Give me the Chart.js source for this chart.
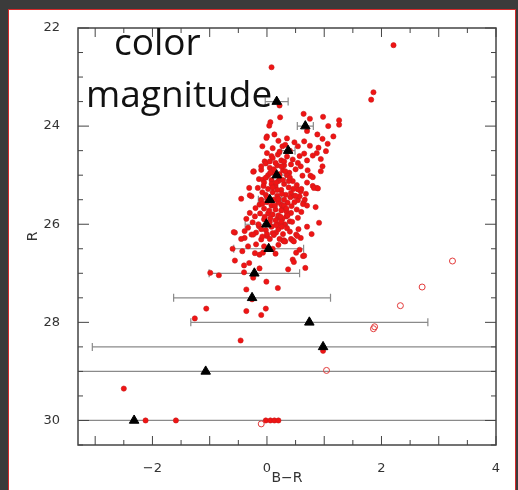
<!DOCTYPE html>
<html lang="en">
<head>
  <meta charset="UTF-8" />
  <title>color magnitude</title>
  <script src="https://cdn.jsdelivr.net/npm/chart.js"></script>
  <style>
    body {
      margin: 0;
      width: 518px;
      height: 490px;
      overflow: hidden;
      position: relative;
      background: #3b3b3b;
    }
    .panel {
      position: absolute;
      left: 8px;
      top: 9px;
      width: 506px;
      height: 490px;
      background: #fff;
      border: 1.5px solid #d42a2a;
    }
    #cmd {
      position: absolute;
      left: 0;
      top: 0;
    }
    .note {
      position: absolute;
      font-family: 'Open Sans', sans-serif;
      font-size: 37px;
      line-height: 1;
      color: #111;
      white-space: nowrap;
    }
  </style>
</head>
<body>
  <div class="panel"></div>
  <canvas id="cmd" width="518" height="490"></canvas>
  <div class="note" style="left:114px; top:22px;">color</div>
  <div class="note" style="left:86px; top:74px;">magnitude</div>

  <script>
    // axis ticks
    const xTicks = [-2, 0, 2, 4];
    const yTicks = [22, 24, 26, 28, 30];

    // binned means with B-R error bars
    const triX   = [0.17, 0.67, 0.37, 0.17, 0.05, -0.01, 0.03, -0.22, -0.26, 0.74, 0.98, -1.07, -2.32];
    const triY   = [23.5, 24.0, 24.5, 25.0, 25.5, 26.0, 26.5, 27.0, 27.5, 28.0, 28.5, 29.0, 30.0];
    const triErr = [0.2, 0.14, 0.12, 0.15, 0.2, 0.37, 0.61, 0.79, 1.37, 2.07, 4.03, 6.0, 7.0];

    // open circles
    const openX = [3.24, 2.71, 2.33, 1.88, 1.86, 1.04, -0.1];
    const openY = [26.75, 27.28, 27.66, 28.09, 28.13, 28.98, 30.07];

    // filled red points
    const redX = [
      2.21, 0.08, 1.86, 1.82, 0.22, 0.64, 0.75, 0.98, 0.23, 0.06, 0.04, 1.07, 1.26, 1.26, 0.7, 0.88,
      1.16, 0.0, 0.13, -0.08, 0.97, 1.06, 0.65, 0.48, 0.54, 0.9, 1.03, 0.87, 0.27, 0.19, 0.65, 0.57,
      0.7, 0.54, 0.94, 0.97, 0.94, 0.71, 0.59, 0.76, 0.62, 0.3, 0.39, 0.45, 0.8, 0.87, 0.42, 0.59,
      0.54, 0.64, 0.91, 0.54, 0.27, 0.42, 0.27, 0.42, 0.3, 0.59, 0.51,
      0.82, 0.89, 0.8, 0.54, 0.57, 0.66, 0.63, 0.41, 0.36, 0.43, 0.25, 0.34, 0.19, 0.34, 0.4, 0.31,
      0.19, 0.28, 0.45, 0.53, 0.16, 0.51, 0.63, 0.57,
      0.0, -0.04, -0.23, -0.1, -0.02, -0.14, -0.07, -0.31, -0.16, -0.27, -0.45, -0.13, -0.2, -0.3,
      -0.21, -0.36, -0.25, -0.33, -0.14, -0.56, -0.39, -0.27, -0.19, -0.1, 0.0, -0.33, -0.43, -0.13,
      -0.21, -0.3, -0.58, -0.39, -0.24, -0.19, -0.07, -0.01, 0.08, -0.1, -0.24,
      0.1, 0.25, 0.35, 0.45, 0.05, 0.18, 0.42, 0.5, 0.12, 0.28, 0.35, 0.02,
      -0.05, 0.08, 0.2, 0.3, 0.38, 0.15, 0.02, -0.08, 0.1, 0.25, 0.33, 0.48, 0.18, -0.02, 0.22, 0.52,
      0.7, 0.68,
      -0.1, 0.0, 0.12, 0.2, 0.3, 0.08, -0.05, 0.15, 0.25, 0.02, -0.12, 0.1, 0.2, 0.48, 0.52, 0.6, 0.7,
      -0.05, 0.05, 0.15, 0.25, -0.15, 0.08, 0.2, 0.35, -0.02, 0.1, 0.28, -0.08, 0.05, 0.4, 0.7, 0.78,
      0.2, 0.32, 0.4, 0.1, 0.22, 0.75, 0.8, 0.35,
      -0.6, -0.05, 0.1, 0.2, 0.15, -0.45, 0.55, 0.85,
      0.05, 0.15, 0.25, 0.12, 0.22, 0.32, -0.02, 0.08, 0.18, 0.28, 0.38, 0.0, 0.1, 0.2, 0.3, -0.08,
      0.04, 0.14, 0.24, 0.34, -0.04, 0.06, 0.16, 0.26, -0.1, 0.0, 0.12, 0.22, 0.32, 0.44, 0.5, 0.6,
      0.36, 0.46, 0.16, 0.06, -0.06, 0.26, 0.4, 0.3,
      -0.56, -0.4, -0.31, -0.99, -0.84, -0.4, -0.24, -0.36, -1.06, -0.36, -1.26, -0.46, -0.26, -0.01,
      -0.13, 0.19, -0.02, -0.1, 0.45, 0.65, 0.37, 0.67, 0.47, 0.3, 0.47, 0.98,
      -2.5, -2.12, -1.59, -0.02, 0.06, 0.13, 0.2
    ];
    const redY = [
      22.35, 22.8, 23.31, 23.46, 23.58, 23.75, 23.85, 23.81, 23.82, 23.92, 23.99, 24.0, 23.88, 23.97, 24.1, 24.17,
      24.21, 24.21, 24.17, 24.41, 24.26, 24.36, 24.31, 24.33, 24.41, 24.44, 24.51, 24.55, 24.41, 24.58, 24.56, 24.61,
      24.7, 24.75, 24.67, 24.82, 24.92, 24.9, 24.82, 25.01, 25.01, 24.8, 24.95, 25.12, 25.22, 25.26, 25.36, 25.33,
      25.51, 25.56, 25.97, 25.87, 25.67, 25.77, 25.89, 26.3, 26.33, 26.28, 26.21,
      25.26, 25.27, 25.04, 25.29, 25.43, 25.5, 25.59, 25.45, 25.56, 25.63, 25.6, 25.74, 25.87, 25.84, 25.94, 26.0,
      26.0, 26.33, 26.33, 26.24, 26.17, 26.58, 26.65, 26.52,
      24.55, 24.72, 24.92, 24.89, 24.76, 25.08, 25.09, 25.26, 25.26, 25.43, 25.48, 25.6, 25.67, 25.77,
      25.84, 25.89, 25.96, 26.07, 26.04, 26.17, 26.14, 26.21, 26.17, 26.31, 26.24, 26.45, 26.55, 26.62,
      26.59, 25.41, 26.16, 26.28, 26.21, 26.41, 26.58, 24.24, 24.61, 24.82, 24.93,
      24.65, 24.7, 24.62, 24.68, 24.85, 24.8, 24.78, 24.88, 24.95, 24.9, 25.0, 25.0,
      25.15, 25.1, 25.12, 25.18, 25.25, 25.22, 25.28, 25.35, 25.35, 25.3, 25.4, 25.42, 25.42, 25.4, 25.05, 25.2,
      25.15, 25.38,
      25.5, 25.55, 25.5, 25.55, 25.5, 25.62, 25.68, 25.7, 25.72, 25.78, 25.78, 25.8, 25.82, 25.55, 25.7, 25.75, 25.62,
      25.9, 25.95, 25.92, 25.95, 26.0, 26.05, 26.1, 26.08, 26.12, 26.18, 26.2, 26.25, 26.3, 26.15, 26.05, 26.2,
      24.3, 24.38, 24.5, 24.45, 24.52, 24.4, 24.6, 24.25,
      26.5, 26.45, 26.5, 26.42, 26.6, 26.3, 26.1, 25.65,
      24.72, 24.75, 24.82, 24.88, 24.98, 24.92, 25.05, 25.18, 25.3, 25.1, 25.12, 25.45, 25.25, 25.48, 25.62, 25.58,
      25.72, 25.62, 25.85, 25.68, 25.85, 25.88, 26.02, 26.05, 26.1, 26.2, 26.22, 26.3, 26.35, 25.95, 25.42, 25.28,
      25.82, 25.28, 25.15, 24.95, 25.22, 25.38, 25.05, 24.72,
      26.74, 26.84, 26.79, 26.99, 27.04, 26.98, 27.09, 27.33, 27.72, 27.77, 27.92, 28.37, 27.53, 27.17,
      26.9, 27.3, 27.72, 27.85, 26.72, 26.64, 26.92, 26.89, 26.77, 26.35, 26.35, 28.58,
      29.35, 30.0, 30.0, 30.0, 30.0, 30.0, 30.0
    ];

    const toPts = (xs, ys) => xs.map((x, i) => ({ x: x, y: ys[i] }));

    // horizontal error bars behind the points
    const errorBars = {
      id: 'errorBars',
      beforeDatasetsDraw(chart) {
        const { ctx, chartArea: a, scales: { x, y } } = chart;
        ctx.save();
        ctx.beginPath();
        ctx.rect(a.left, a.top, a.right - a.left, a.bottom - a.top);
        ctx.clip();
        ctx.strokeStyle = '#8a8a8a';
        ctx.lineWidth = 1.2;
        triX.forEach((v, i) => {
          const py = y.getPixelForValue(triY[i]);
          const x1 = x.getPixelForValue(v - triErr[i]);
          const x2 = x.getPixelForValue(v + triErr[i]);
          ctx.beginPath();
          ctx.moveTo(x1, py);
          ctx.lineTo(x2, py);
          ctx.moveTo(x1, py - 4);
          ctx.lineTo(x1, py + 4);
          ctx.moveTo(x2, py - 4);
          ctx.lineTo(x2, py + 4);
          ctx.stroke();
        });
        ctx.restore();
      }
    };

    // box with inward major/minor ticks on all sides
    const frame = {
      id: 'frame',
      afterDatasetsDraw(chart) {
        const { ctx, chartArea: a, scales: { x, y } } = chart;
        ctx.save();
        ctx.strokeStyle = '#444';
        ctx.lineWidth = 1.5;
        ctx.strokeRect(a.left, a.top, a.right - a.left, a.bottom - a.top);
        ctx.lineWidth = 1;
        ctx.beginPath();
        for (let v = -3; v <= 4; v += 0.5) {
          const px = x.getPixelForValue(v);
          const len = Number.isInteger(v) ? 9 : 5;
          ctx.moveTo(px, a.bottom); ctx.lineTo(px, a.bottom - len);
          ctx.moveTo(px, a.top); ctx.lineTo(px, a.top + len);
        }
        for (let v = 22; v <= 30.5; v += 0.5) {
          const py = y.getPixelForValue(v);
          const len = Number.isInteger(v) && v % 2 === 0 ? 11 : 5;
          ctx.moveTo(a.left, py); ctx.lineTo(a.left + len, py);
          ctx.moveTo(a.right, py); ctx.lineTo(a.right - len, py);
        }
        ctx.stroke();
        ctx.restore();
      }
    };

    const tickFont = { family: 'DejaVu Sans', size: 13 };

    new Chart(document.getElementById('cmd'), {
      type: 'scatter',
      data: {
        datasets: [
          {
            label: 'mean',
            data: toPts(triX, triY),
            pointStyle: 'triangle',
            pointRadius: 5.5,
            backgroundColor: '#000',
            borderColor: '#000',
            borderWidth: 1,
            order: 0
          },
          {
            label: 'open',
            data: toPts(openX, openY),
            pointRadius: 3,
            backgroundColor: 'rgba(0,0,0,0)',
            borderColor: '#e23a3a',
            borderWidth: 1,
            order: 1
          },
          {
            label: 'stars',
            data: toPts(redX, redY),
            pointRadius: 2.6,
            backgroundColor: '#f01414',
            borderColor: '#c81c1c',
            borderWidth: 0.6,
            order: 2
          }
        ]
      },
      options: {
        responsive: false,
        animation: false,
        layout: { padding: { top: 28, right: 22, left: 0, bottom: 0 } },
        plugins: { legend: { display: false }, tooltip: { enabled: false } },
        scales: {
          x: {
            type: 'linear',
            min: -3.3,
            max: 4,
            grid: { display: false },
            border: { display: false },
            afterBuildTicks: s => { s.ticks = xTicks.map(v => ({ value: v })); },
            afterFit: s => { s.height = 45; },
            ticks: {
              padding: 8,
              color: '#333',
              font: tickFont,
              callback: v => String(v).replace('-', '\u2212')
            },
            title: {
              display: true,
              text: 'B\u2212R',
              color: '#333',
              font: { family: 'DejaVu Sans', size: 14 },
              padding: { top: 0, bottom: 3 }
            }
          },
          y: {
            type: 'linear',
            reverse: true,
            min: 22,
            max: 30.5,
            grid: { display: false },
            border: { display: false },
            afterBuildTicks: s => { s.ticks = yTicks.map(v => ({ value: v })); },
            afterFit: s => { s.width = 78; },
            ticks: { padding: 10, color: '#333', font: tickFont },
            title: {
              display: true,
              text: 'R',
              color: '#333',
              font: { family: 'DejaVu Sans', size: 14 },
              padding: { top: 25, bottom: 0 }
            }
          }
        }
      },
      plugins: [errorBars, frame]
    });
  </script>
</body>
</html>
